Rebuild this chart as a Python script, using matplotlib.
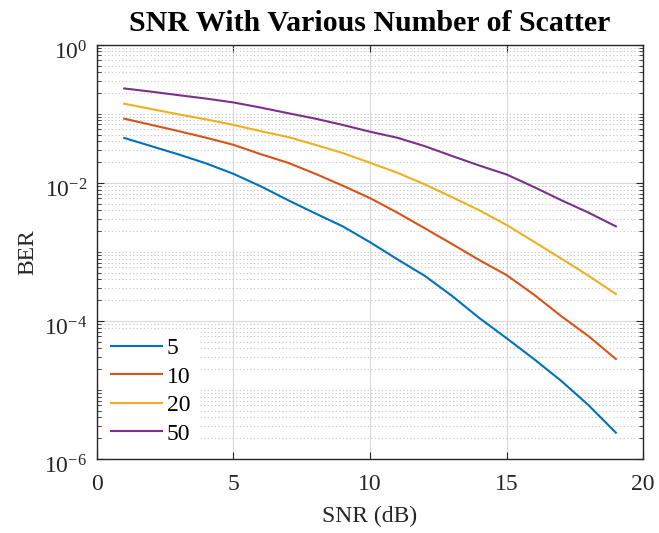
import matplotlib
matplotlib.use('Agg')
import matplotlib.pyplot as plt
from matplotlib.ticker import LogLocator, NullFormatter
from matplotlib.transforms import ScaledTranslation

plt.rcParams['font.family'] = ['Liberation Serif', 'DejaVu Serif']
plt.rcParams['mathtext.fontset'] = 'custom'
plt.rcParams['mathtext.rm'] = 'Liberation Serif'
plt.rcParams['mathtext.it'] = 'Liberation Serif:italic'

snr = [1, 2, 3, 4, 5, 6, 7, 8, 9, 10, 11, 12, 13, 14, 15, 16, 17, 18, 19]
labels = ['5', '10', '20', '50']
ber_5 = [0.0447, 0.0339, 0.0257, 0.0191, 0.0135, 0.0089, 0.0056, 0.0036, 0.00234,
         0.00138, 7.8e-4, 4.5e-4, 2.3e-4, 1.1e-4, 5.6e-5, 2.8e-5, 1.35e-5, 6.0e-6, 2.4e-6]
ber_10 = [0.085, 0.069, 0.056, 0.045, 0.0355, 0.026, 0.0195, 0.0135, 0.0091,
          0.006, 0.0037, 0.0022, 0.0013, 7.6e-4, 4.6e-4, 2.4e-4, 1.17e-4, 6.0e-5, 2.8e-5]
ber_20 = [0.14, 0.117, 0.098, 0.083, 0.069, 0.056, 0.046, 0.0355, 0.027,
          0.0195, 0.014, 0.0095, 0.0062, 0.004, 0.00245, 0.0014, 8.0e-4, 4.5e-4, 2.45e-4]
ber_50 = [0.233, 0.209, 0.186, 0.166, 0.146, 0.123, 0.102, 0.085, 0.069,
          0.055, 0.045, 0.034, 0.0245, 0.0178, 0.0132, 0.0087, 0.0056, 0.0037, 0.00234]
colors = ['#0072BD', '#D95319', '#EDB120', '#7E2F8E']

fig = plt.figure(figsize=(6.59, 5.33), dpi=100)
ax = fig.add_axes([0.147, 0.139, 0.829, 0.777])

for ber, lab, c in zip([ber_5, ber_10, ber_20, ber_50], labels, colors):
    ax.plot(snr, ber, color=c, lw=1.5, label=lab)

ax.set_yscale('log')
ax.set_xlim(0, 20)
ax.set_ylim(1e-6, 1e0)
ax.set_xticks([0, 5, 10, 15, 20])
ax.yaxis.set_major_locator(LogLocator(base=100, numticks=10))
ax.yaxis.set_minor_locator(LogLocator(base=10, subs=range(1, 10), numticks=20))
ax.yaxis.set_minor_formatter(NullFormatter())

ax.grid(True, which='major', color='#d9d9d9', lw=0.8, ls='-')
ax.grid(True, which='minor', axis='y', color='#c4c4c4', lw=0.8, ls=(0, (1, 2.2)))
ax.set_axisbelow(True)

ax.tick_params(which='both', direction='in', top=True, right=True, labelsize=17, colors='#262626')
ax.tick_params(which='major', length=5)
ax.tick_params(which='minor', length=3)
ax.tick_params(axis='x', pad=11)
ax.tick_params(axis='y', pad=7)
for s in ax.spines.values():
    s.set_color('#262626')
    s.set_linewidth(1.0)
# MATLAB puts the y labels a little lower than the tick
shift = ScaledTranslation(0, -4 / 72, fig.dpi_scale_trans)
for t in ax.yaxis.get_majorticklabels():
    t.set_transform(t.get_transform() + shift)

ax.set_xlabel('SNR (dB)', fontsize=17, color='#262626', labelpad=8)
ax.set_ylabel('BER', fontsize=17, color='#262626', labelpad=4)
ax.set_title('SNR With Various Number of Scatter', fontsize=21.5, fontweight='bold', pad=10)

leg = ax.legend(loc='lower left', fontsize=17, frameon=True, fancybox=False,
                handlelength=2.15, labelspacing=0.3, borderpad=0.3, borderaxespad=0.3,
                handletextpad=0.2)
leg.get_frame().set_edgecolor('white')
leg.get_frame().set_facecolor('white')
leg.get_frame().set_alpha(1.0)

fig.savefig('out.png', dpi=100)
